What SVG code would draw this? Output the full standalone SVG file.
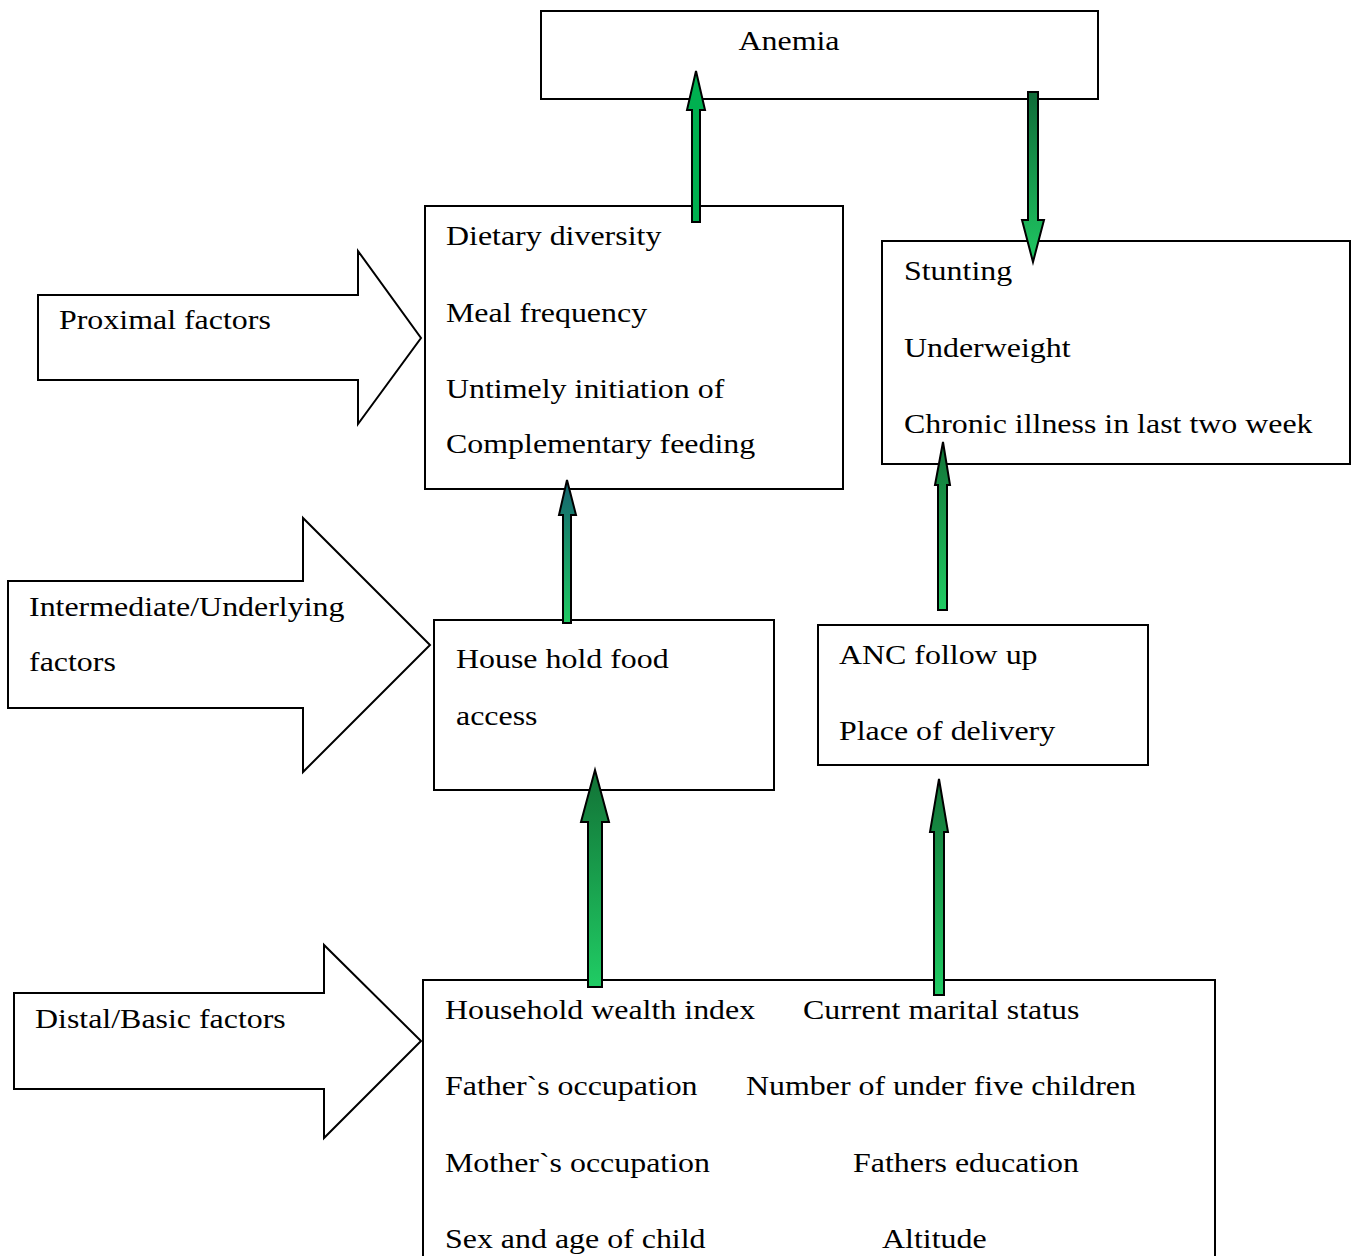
<svg xmlns="http://www.w3.org/2000/svg" width="1352" height="1256" viewBox="0 0 1352 1256">
<style>
.box{fill:#fff;stroke:#000;stroke-width:2}
.blk{fill:#fff;stroke:#000;stroke-width:2;stroke-linejoin:miter}
.t{font-family:"Liberation Serif","Times New Roman",serif;font-size:28px;fill:#000}
.ar{stroke:#000;stroke-width:2;stroke-linejoin:miter}
</style>
<defs>
<linearGradient id="gDown" x1="0" y1="0" x2="0" y2="1"><stop offset="0" stop-color="#0F6B38"/><stop offset="1" stop-color="#1FC862"/></linearGradient>
<linearGradient id="gTeal" x1="0" y1="0" x2="0" y2="1"><stop offset="0" stop-color="#14626F"/><stop offset="1" stop-color="#1FCB62"/></linearGradient>
<linearGradient id="gUp" x1="0" y1="0" x2="0" y2="1"><stop offset="0" stop-color="#127236"/><stop offset="1" stop-color="#20CC64"/></linearGradient>
</defs>
<rect width="1352" height="1256" fill="#fff"/>

<g id="anemia"><rect class="box" x="541" y="11" width="557" height="88"/><text class="t" transform="matrix(1.14 0 0 1 789 50)" text-anchor="middle">Anemia</text></g>

<g id="proximal"><polygon class="blk" points="38,295 358,295 358,251 421,338 358,424 358,380 38,380"/><text class="t" transform="matrix(1.14 0 0 1 59 329)">Proximal factors</text></g>

<g id="intermediate"><polygon class="blk" points="8,581 303,581 303,518 430,645 303,772 303,708 8,708"/><text class="t" transform="matrix(1.14 0 0 1 29 616)">Intermediate/Underlying</text><text class="t" transform="matrix(1.14 0 0 1 29 671)">factors</text></g>

<g id="distal"><polygon class="blk" points="14,993 324,993 324,945 421,1041 324,1138 324,1089 14,1089"/><text class="t" transform="matrix(1.14 0 0 1 35 1028)">Distal/Basic factors</text></g>

<g id="dietary"><rect class="box" x="425" y="206" width="418" height="283"/>
<text class="t" transform="matrix(1.14 0 0 1 446 245)">Dietary diversity</text>
<text class="t" transform="matrix(1.14 0 0 1 446 322)">Meal frequency</text>
<text class="t" transform="matrix(1.14 0 0 1 446 398)">Untimely initiation of</text>
<text class="t" transform="matrix(1.14 0 0 1 446 453)">Complementary feeding</text></g>

<g id="stunting"><rect class="box" x="882" y="241" width="468" height="223"/>
<text class="t" transform="matrix(1.14 0 0 1 904 280)">Stunting</text>
<text class="t" transform="matrix(1.14 0 0 1 904 357)">Underweight</text>
<text class="t" transform="matrix(1.14 0 0 1 904 433)">Chronic illness in last two week</text></g>

<g id="household"><rect class="box" x="434" y="620" width="340" height="170"/>
<text class="t" transform="matrix(1.14 0 0 1 456 668)">House hold food</text>
<text class="t" transform="matrix(1.14 0 0 1 456 725)">access</text></g>

<g id="anc"><rect class="box" x="818" y="625" width="330" height="140"/>
<text class="t" transform="matrix(1.14 0 0 1 839 664)">ANC follow up</text>
<text class="t" transform="matrix(1.14 0 0 1 839 740)">Place of delivery</text></g>

<g id="basic"><rect class="box" x="423" y="980" width="792" height="300"/>
<text class="t" transform="matrix(1.14 0 0 1 445 1019)">Household wealth index</text>
<text class="t" transform="matrix(1.14 0 0 1 803 1019)">Current marital status</text>
<text class="t" transform="matrix(1.14 0 0 1 445 1095)">Father`s occupation</text>
<text class="t" transform="matrix(1.14 0 0 1 746 1095)">Number of under five children</text>
<text class="t" transform="matrix(1.14 0 0 1 445 1172)">Mother`s occupation</text>
<text class="t" transform="matrix(1.14 0 0 1 853 1172)">Fathers education</text>
<text class="t" transform="matrix(1.14 0 0 1 445 1248)">Sex and age of child</text>
<text class="t" transform="matrix(1.14 0 0 1 882 1248)">Altitude</text></g>

<g id="connectors">
<polygon class="ar" fill="#00B050" points="692,222 692,110 687,110 696,71 705,110 700,110 700,222"/>
<polygon class="ar" fill="url(#gDown)" points="1028,92 1038,92 1038,220 1044,220 1033,262 1022,220 1028,220"/>
<polygon class="ar" fill="url(#gTeal)" points="563,623 563,515 559,515 567,480 576,515 571,515 571,623"/>
<polygon class="ar" fill="url(#gUp)" points="588,987 588,822 581,822 595,770 609,822 602,822 602,987"/>
<polygon class="ar" fill="url(#gUp)" points="938,610 938,485 935,485 943,442 950,485 947,485 947,610"/>
<polygon class="ar" fill="url(#gUp)" points="934,995 934,832 930,832 939,779 948,832 944,832 944,995"/>
</g>
</svg>
